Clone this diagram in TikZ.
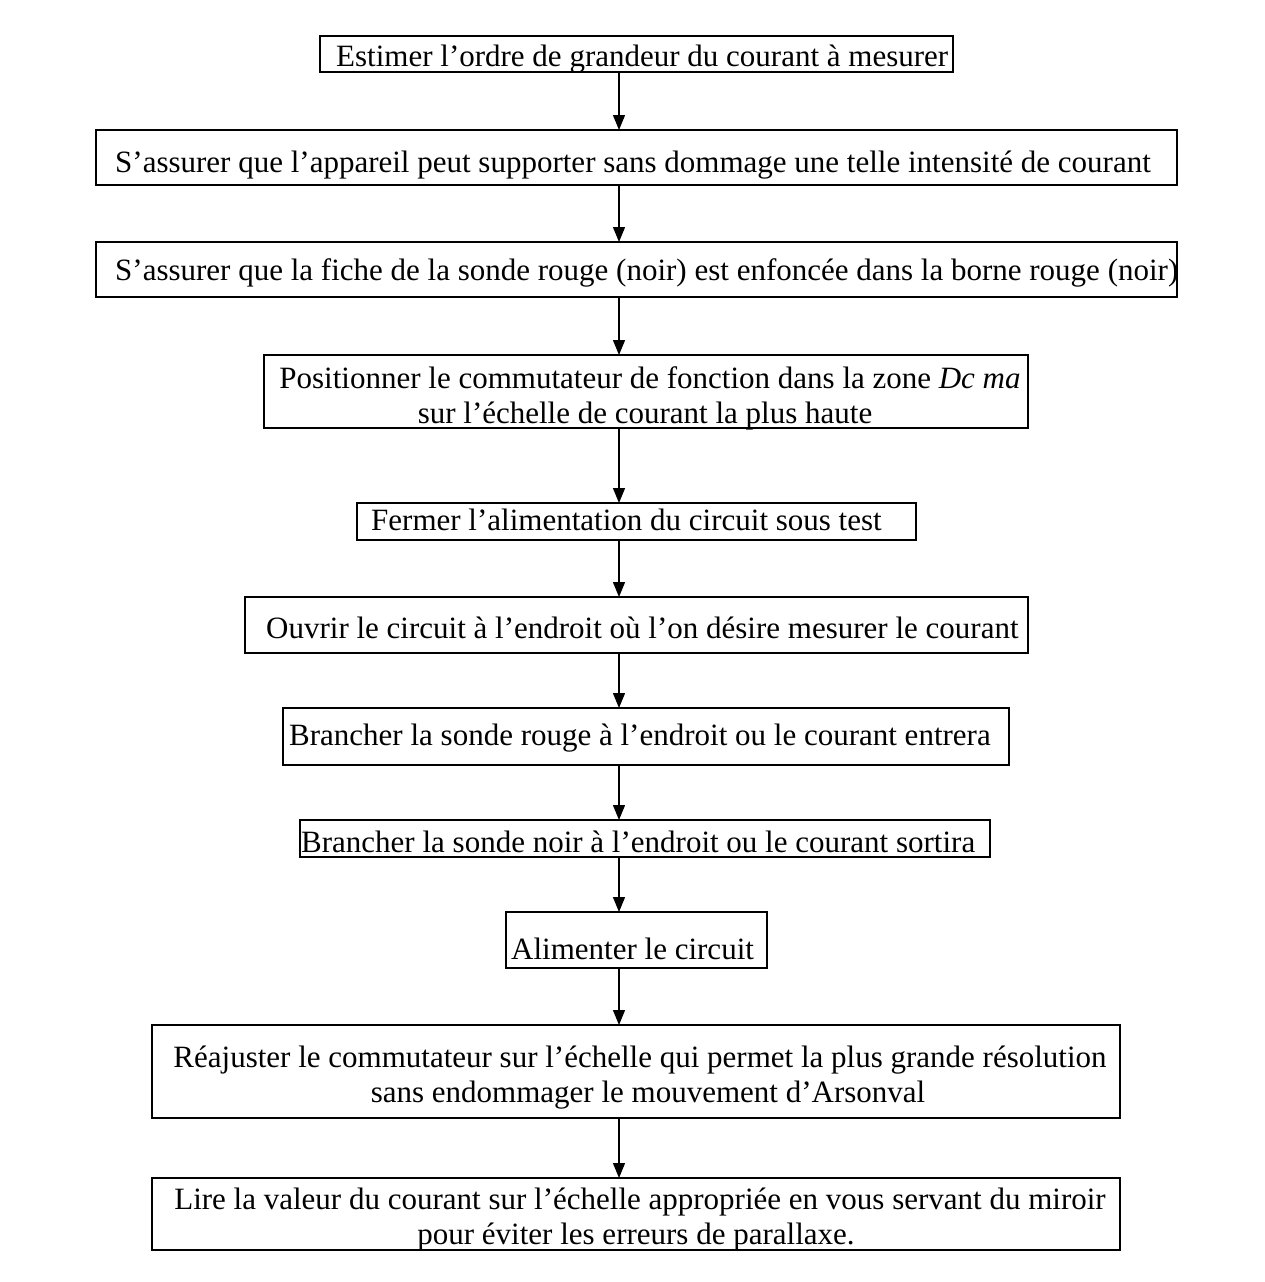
\documentclass[tikz,border=0pt]{standalone}
\usepackage{fontspec}
\setmainfont{Liberation Serif}
\usetikzlibrary{arrows.meta}
\begin{document}
\begin{tikzpicture}[x=1pt,y=-1pt,
  stepbox/.style={draw=black, line width=1.8pt, inner sep=0pt, outer sep=0pt, anchor=north west},
  steptext/.style={inner sep=0pt, font=\fontsize{31}{35}\selectfont},
  flow/.style={draw=black, line width=1.4pt, -{Triangle[length=15pt,width=12pt]}}]
\useasboundingbox (0,0) rectangle (1265,1282);
\coordinate (spine) at (619,0);

% boxes of the procedure
\node[stepbox, minimum width=633pt,  minimum height=36pt] (b1)  at (320,36)   {};
\node[stepbox, minimum width=1081pt, minimum height=55pt] (b2)  at (96,130)   {};
\node[stepbox, minimum width=1081pt, minimum height=55pt] (b3)  at (96,242)   {};
\node[stepbox, minimum width=764pt,  minimum height=73pt] (b4)  at (264,355)  {};
\node[stepbox, minimum width=559pt,  minimum height=37pt] (b5)  at (357,503)  {};
\node[stepbox, minimum width=783pt,  minimum height=56pt] (b6)  at (245,597)  {};
\node[stepbox, minimum width=726pt,  minimum height=57pt] (b7)  at (283,708)  {};
\node[stepbox, minimum width=690pt,  minimum height=37pt] (b8)  at (300,820)  {};
\node[stepbox, minimum width=261pt,  minimum height=56pt] (b9)  at (506,912)  {};
\node[stepbox, minimum width=968pt,  minimum height=93pt] (b10) at (152,1025) {};
\node[stepbox, minimum width=968pt,  minimum height=72pt] (b11) at (152,1178) {};

% texts of the steps
\node[steptext, anchor=base west] (t1) at (336,66)  {Estimer l’ordre de grandeur du courant à mesurer};
\node[steptext, anchor=base west] (t2) at (115,172) {S’assurer que l’appareil peut supporter sans dommage une telle intensité de courant};
\node[steptext, anchor=base west] (t3) at (115,280) {S’assurer que la fiche de la sonde rouge (noir) est enfoncée dans la borne rouge (noir)};
\node[steptext, anchor=base] (t4a) at (650,388) {Positionner le commutateur de fonction dans la zone \textit{Dc ma}};
\node[steptext, anchor=base] (t4b) at (645,423) {sur l’échelle de courant la plus haute};
\node[steptext, anchor=base west] (t5) at (371,530) {Fermer l’alimentation du circuit sous test};
\node[steptext, anchor=base west] (t6) at (266,638) {Ouvrir le circuit à l’endroit où l’on désire mesurer le courant};
\node[steptext, anchor=base west] (t7) at (289,745) {Brancher la sonde rouge à l’endroit ou le courant entrera};
\node[steptext, anchor=base west] (t8) at (301,852) {Brancher la sonde noir à l’endroit ou le courant sortira};
\node[steptext, anchor=base west] (t9) at (511,959) {Alimenter le circuit};
\node[steptext, anchor=base] (t10a) at (640,1067) {Réajuster le commutateur sur l’échelle qui permet la plus grande résolution};
\node[steptext, anchor=base] (t10b) at (648,1102) {sans endommager le mouvement d’Arsonval};
\node[steptext, anchor=base] (t11a) at (640,1209) {Lire la valeur du courant sur l’échelle appropriée en vous servant du miroir};
\node[steptext, anchor=base] (t11b) at (636,1244) {pour éviter les erreurs de parallaxe.};

% connectors along the spine
\foreach \a/\b in {b1/b2,b2/b3,b3/b4,b4/b5,b5/b6,b6/b7,b7/b8,b8/b9,b9/b10,b10/b11}
  \draw[flow] (\a.south -| spine) -- (\b.north -| spine);
\end{tikzpicture}
\end{document}
